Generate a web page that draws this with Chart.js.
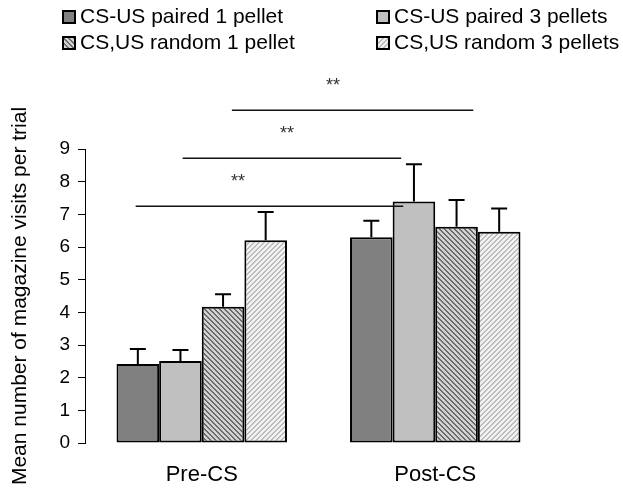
<!DOCTYPE html>
<html>
<head>
<meta charset="utf-8">
<script src="https://cdn.jsdelivr.net/npm/chart.js@4.4.1/dist/chart.umd.min.js"></script>
<style>
  html, body { margin: 0; padding: 0; background: #fff; }
</style>
</head>
<body>
<canvas id="visitasChart" width="623" height="492"></canvas>
<script>
// Categorias e grupos
const periodos = ['Pre-CS', 'Post-CS'];
const grupos = ['CS-US paired 1 pellet', 'CS-US paired 3 pellets', 'CS,US random 1 pellet', 'CS,US random 3 pellets'];

// Médias de visitas ao comedouro por tentativa [Pre-CS, Post-CS]
const pareado1 = [2.42, 6.30];
const pareado3 = [2.51, 7.39];
const aleatorio1 = [4.17, 6.62];
const aleatorio3 = [6.21, 6.47];

// Erro padrão (só a parte de cima é desenhada)
const erroPareado1 = [0.46, 0.50];
const erroPareado3 = [0.34, 1.14];
const erroAleatorio1 = [0.38, 0.82];
const erroAleatorio3 = [0.86, 0.71];

// Comparações significativas: de/até em índice de categoria, altura no eixo y
const comparacoes = [
  { de: -0.283, ate: 0.863, nivel: 7.25, rotulo: '**', xRotulo: 0.155 },
  { de: -0.082, ate: 0.854, nivel: 8.72, rotulo: '**', xRotulo: 0.365 },
  { de: 0.129, ate: 1.163, nivel: 10.19, rotulo: '**', xRotulo: 0.562 }
];

const ticksY = [0, 1, 2, 3, 4, 5, 6, 7, 8, 9];

// Cria um padrão de listras diagonais
function listras(fundo, cor, tamanho, largura, sentido) {
  const c = document.createElement('canvas');
  c.width = tamanho; c.height = tamanho;
  const g = c.getContext('2d');
  g.fillStyle = fundo;
  g.fillRect(0, 0, tamanho, tamanho);
  g.fillStyle = cor;
  for (let x = 0; x < tamanho; x++) {
    for (let y = 0; y < tamanho; y++) {
      const d = sentido === '\\' ? x - y : x + y;
      if (((d % tamanho) + tamanho) % tamanho < largura) g.fillRect(x, y, 1, 1);
    }
  }
  return g.createPattern(c, 'repeat');
}

// Barras de erro (para cima)
const barrasErro = {
  id: 'barrasErro',
  afterDatasetsDraw(chart) {
    const ctx = chart.ctx;
    const y = chart.scales.y;
    ctx.save();
    ctx.strokeStyle = '#000';
    ctx.lineWidth = 2;
    chart.data.datasets.forEach((ds, i) => {
      chart.getDatasetMeta(i).data.forEach((bar, j) => {
        const topo = y.getPixelForValue(ds.data[j] + ds.erro[j]);
        ctx.beginPath();
        ctx.moveTo(bar.x, bar.y);
        ctx.lineTo(bar.x, topo);
        ctx.moveTo(bar.x - 8, topo);
        ctx.lineTo(bar.x + 8, topo);
        ctx.stroke();
      });
    });
    ctx.restore();
  }
};

// Linhas de significância com os asteriscos
const significancia = {
  id: 'significancia',
  afterDraw(chart) {
    const ctx = chart.ctx;
    const x = chart.scales.x;
    const y = chart.scales.y;
    const x0 = x.getPixelForValue(0);
    const passo = x.getPixelForValue(1) - x0;
    ctx.save();
    ctx.strokeStyle = '#111';
    ctx.lineWidth = 1.5;
    ctx.fillStyle = '#333';
    ctx.font = '18px "Liberation Sans", Arial, sans-serif';
    ctx.textAlign = 'center';
    ctx.textBaseline = 'middle';
    comparacoes.forEach(c => {
      const py = y.getPixelForValue(c.nivel);
      ctx.beginPath();
      ctx.moveTo(x0 + c.de * passo, py);
      ctx.lineTo(x0 + c.ate * passo, py);
      ctx.stroke();
      ctx.fillText(c.rotulo, x0 + c.xRotulo * passo, py - 24);
    });
    ctx.restore();
  }
};

// Legenda em duas colunas
const legenda = {
  id: 'legenda',
  afterDraw(chart) {
    const ctx = chart.ctx;
    const colunas = [62, 376];
    const linhas = [16, 42];
    ctx.save();
    ctx.font = '21px "Liberation Sans", Arial, sans-serif';
    ctx.textBaseline = 'middle';
    chart.data.datasets.forEach((ds, i) => {
      const cx = colunas[i % 2];
      const cy = linhas[Math.floor(i / 2)];
      ctx.fillStyle = ds.backgroundColor;
      ctx.fillRect(cx, cy - 6, 14, 14);
      ctx.strokeStyle = '#000';
      ctx.lineWidth = 2;
      ctx.strokeRect(cx + 1, cy - 5, 12, 12);
      ctx.fillStyle = '#000';
      ctx.fillText(ds.label, cx + 18, cy + 1);
    });
    ctx.restore();
  }
};

const ctx = document.getElementById('visitasChart').getContext('2d');
const valores = [pareado1, pareado3, aleatorio1, aleatorio3];
const erros = [erroPareado1, erroPareado3, erroAleatorio1, erroAleatorio3];
const cores = [
  '#808080',
  '#c0c0c0',
  listras('#d2d2d2', '#6a6a6a', 5, 2, '\\'),
  listras('#f2f2f2', '#bcbcbc', 5, 2, '/')
];

new Chart(ctx, {
  type: 'bar',
  data: {
    labels: periodos,
    datasets: grupos.map((g, i) => ({
      label: g,
      data: valores[i],
      erro: erros[i],
      backgroundColor: cores[i],
      borderColor: '#000',
      borderWidth: 2,
      borderSkipped: false,
      barPercentage: 1,
      categoryPercentage: 0.73
    }))
  },
  options: {
    responsive: false,
    animation: false,
    layout: { padding: { top: 149, right: 71, bottom: 0, left: 0 } },
    plugins: {
      legend: { display: false },
      tooltip: { enabled: false }
    },
    scales: {
      x: {
        afterFit: (s) => { s.height = 49; },
        grid: { display: false },
        border: { display: false },
        ticks: { color: '#000', font: { size: 22, family: '"Liberation Sans", Arial' }, padding: 11 }
      },
      y: {
        min: 0,
        max: 9,
        afterBuildTicks: (s) => { s.ticks = ticksY.map(v => ({ value: v })); },
        afterFit: (s) => { s.width = 85; },
        grid: { drawOnChartArea: false, color: '#000', tickLength: 7 },
        border: { color: '#000', width: 1 },
        ticks: { color: '#000', font: { size: 19, family: '"Liberation Sans", Arial' }, padding: 8 },
        title: {
          display: true,
          text: 'Mean number of magazine visits per trial',
          color: '#000',
          font: { size: 21, family: '"Liberation Sans", Arial' },
          padding: { top: 8, bottom: 0 }
        }
      }
    }
  },
  plugins: [barrasErro, significancia, legenda]
});
</script>
</body>
</html>
